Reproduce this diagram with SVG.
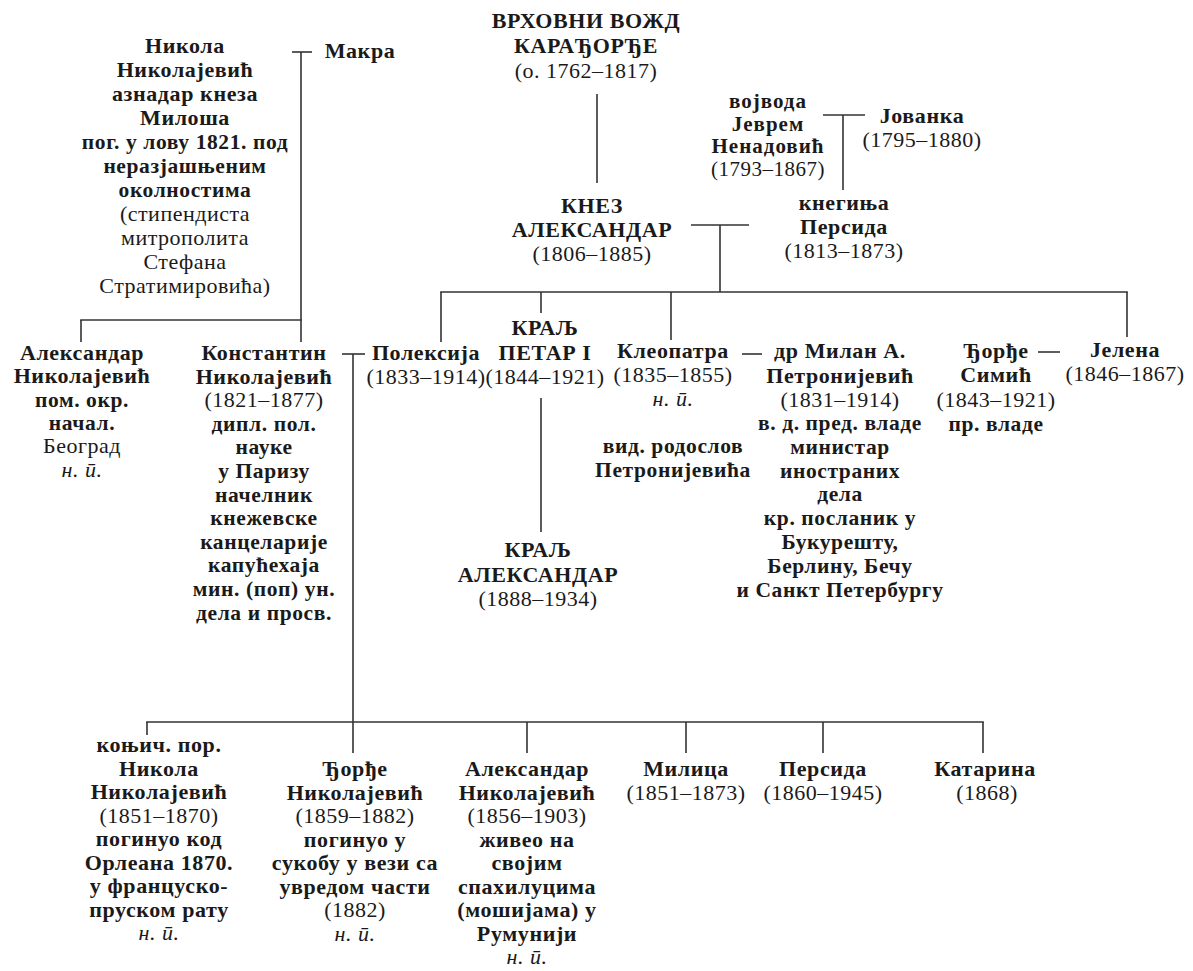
<svg xmlns="http://www.w3.org/2000/svg" width="1193" height="971" viewBox="0 0 1193 971">
<style>
text{font-family:"Liberation Serif","Times New Roman",serif;fill:#1a1a1a;text-anchor:middle;font-size:22px}
.b{font-weight:bold;letter-spacing:0.6px}
.d{font-weight:bold;font-size:21.5px;letter-spacing:0.6px}
.r{font-weight:normal;letter-spacing:0.5px}
.i{font-style:italic;font-weight:normal;letter-spacing:0.5px}
.v{font-size:21px}
.v .b{letter-spacing:1px}
.c line{stroke:#333;stroke-width:1.6;fill:none}
</style>
<rect width="1193" height="971" fill="#fff"/>
<g class="c" id="connectors">
<line x1="292" y1="52" x2="312" y2="52"/>
<line x1="301" y1="52" x2="301" y2="342"/>
<line x1="80.2" y1="320" x2="301.8" y2="320"/>
<line x1="81" y1="320" x2="81" y2="342"/>
<line x1="342" y1="354" x2="365" y2="354"/>
<line x1="353" y1="354" x2="353" y2="753"/>
<line x1="146.2" y1="722" x2="983.8" y2="722"/>
<line x1="147" y1="722" x2="147" y2="735"/>
<line x1="527" y1="722" x2="527" y2="753"/>
<line x1="686" y1="722" x2="686" y2="753"/>
<line x1="823" y1="722" x2="823" y2="753"/>
<line x1="983" y1="722" x2="983" y2="753"/>
<line x1="597" y1="94" x2="597" y2="183"/>
<line x1="691" y1="225" x2="749" y2="225"/>
<line x1="720" y1="225" x2="720" y2="292"/>
<line x1="440.2" y1="292" x2="1127.8" y2="292"/>
<line x1="441" y1="292" x2="441" y2="342"/>
<line x1="541" y1="292" x2="541" y2="313"/>
<line x1="671" y1="292" x2="671" y2="340"/>
<line x1="1127" y1="292" x2="1127" y2="337"/>
<line x1="541" y1="398" x2="541" y2="532"/>
<line x1="742" y1="354" x2="762" y2="354"/>
<line x1="1038" y1="352" x2="1060" y2="352"/>
<line x1="823" y1="115" x2="865" y2="115"/>
<line x1="843" y1="115" x2="843" y2="190"/>
</g>
<g id="nikola">
<text x="185" y="53"><tspan class="b" x="185">Никола</tspan><tspan class="b" x="185" dy="24">Николајевић</tspan><tspan class="b" x="185" dy="24">азнадар кнеза</tspan><tspan class="b" x="185" dy="24">Милоша</tspan><tspan class="d" x="185" dy="24">пог. у лову 1821. под</tspan><tspan class="d" x="185" dy="24">неразјашњеним</tspan><tspan class="d" x="185" dy="24">околностима</tspan><tspan class="r" x="185" dy="24">(стипендиста</tspan><tspan class="r" x="185" dy="24">митрополита</tspan><tspan class="r" x="185" dy="24">Стефана</tspan><tspan class="r" x="185" dy="24">Стратимировића)</tspan></text>
</g>
<g id="makra"><text class="b" x="360" y="58">Макра</text></g>
<g id="aleksandar-n1">
<text x="82" y="360"><tspan class="b" x="82">Александар</tspan><tspan class="b" x="82" dy="23.3">Николајевић</tspan><tspan class="d" x="82" dy="23.3">пом. окр.</tspan><tspan class="d" x="82" dy="23.3">начал.</tspan><tspan class="r" x="82" dy="23.3">Београд</tspan><tspan class="i" x="82" dy="23.3">н. ӣ.</tspan></text>
</g>
<g id="konstantin">
<text x="264" y="360"><tspan class="b" x="264">Константин</tspan><tspan class="b" x="264" dy="23.6">Николајевић</tspan><tspan class="r" x="264" dy="23.6">(1821–1877)</tspan><tspan class="d" x="264" dy="23.6">дипл. пол.</tspan><tspan class="d" x="264" dy="23.6">науке</tspan><tspan class="d" x="264" dy="23.6">у Паризу</tspan><tspan class="d" x="264" dy="23.6">начелник</tspan><tspan class="d" x="264" dy="23.6">кнежевске</tspan><tspan class="d" x="264" dy="23.6">канцеларије</tspan><tspan class="d" x="264" dy="23.6">капућехаја</tspan><tspan class="d" x="264" dy="23.6">мин. (поп) ун.</tspan><tspan class="d" x="264" dy="23.6">дела и просв.</tspan></text>
</g>
<g id="karadjordje">
<text x="586" y="28"><tspan class="b" x="586">ВРХОВНИ ВОЖД</tspan><tspan class="b" x="586" dy="25">КАРАЂОРЂЕ</tspan><tspan class="r" x="586" dy="25">(о. 1762–1817)</tspan></text>
</g>
<g id="knez-aleksandar">
<text x="592" y="213"><tspan class="b" x="592">КНЕЗ</tspan><tspan class="b" x="592" dy="24">АЛЕКСАНДАР</tspan><tspan class="r" x="592" dy="24">(1806–1885)</tspan></text>
</g>
<g id="jevrem">
<text class="v" x="768" y="108"><tspan class="b" x="768">војвода</tspan><tspan class="b" x="768" dy="22.5">Јеврем</tspan><tspan class="b" x="768" dy="22.5">Ненадовић</tspan><tspan class="r" x="768" dy="22.5">(1793–1867)</tspan></text>
</g>
<g id="jovanka">
<text x="922" y="123"><tspan class="b" x="922">Јованка</tspan><tspan class="r" x="922" dy="24">(1795–1880)</tspan></text>
</g>
<g id="persida-kneginja">
<text x="844" y="210"><tspan class="b" x="844">кнегиња</tspan><tspan class="b" x="844" dy="24">Персида</tspan><tspan class="r" x="844" dy="23.5">(1813–1873)</tspan></text>
</g>
<g id="poleksija">
<text x="426" y="360"><tspan class="b" x="426">Полексија</tspan><tspan class="r" x="426" dy="23.5">(1833–1914)</tspan></text>
</g>
<g id="petar">
<text x="545" y="335"><tspan class="b" x="545">КРАЉ</tspan><tspan class="b" x="545" dy="25">ПЕТАР I</tspan><tspan class="r" x="545" dy="23.5">(1844–1921)</tspan></text>
</g>
<g id="kralj-aleksandar">
<text x="538" y="557"><tspan class="b" x="538">КРАЉ</tspan><tspan class="b" x="538" dy="25">АЛЕКСАНДАР</tspan><tspan class="r" x="538" dy="23.5">(1888–1934)</tspan></text>
</g>
<g id="kleopatra">
<text x="673" y="358"><tspan class="b" x="673">Клеопатра</tspan><tspan class="r" x="673" dy="23.5">(1835–1855)</tspan><tspan class="i" x="673" dy="24">н. ӣ.</tspan></text>
<text x="673" y="453"><tspan class="d" x="673">вид. родослов</tspan><tspan class="d" x="673" dy="24">Петронијевића</tspan></text>
</g>
<g id="milan">
<text x="840" y="358"><tspan class="b" x="840">др Милан А.</tspan><tspan class="b" x="840" dy="24.5">Петронијевић</tspan><tspan class="r" x="840" dy="24">(1831–1914)</tspan><tspan class="d" x="840" dy="23.5">в. д. пред. владе</tspan><tspan class="d" x="840" dy="23.8">министар</tspan><tspan class="d" x="840" dy="23.8">иностраних</tspan><tspan class="d" x="840" dy="23.8">дела</tspan><tspan class="d" x="840" dy="23.8">кр. посланик у</tspan><tspan class="d" x="840" dy="23.8">Букурешту,</tspan><tspan class="d" x="840" dy="23.8">Берлину, Бечу</tspan><tspan class="d" x="840" dy="23.8">и Санкт Петербургу</tspan></text>
</g>
<g id="djordje-simic">
<text x="996" y="358"><tspan class="b" x="996">Ђорђе</tspan><tspan class="b" x="996" dy="24">Симић</tspan><tspan class="r" x="996" dy="25">(1843–1921)</tspan><tspan class="d" x="996" dy="23.5">пр. владе</tspan></text>
</g>
<g id="jelena">
<text x="1125" y="357"><tspan class="b" x="1125">Јелена</tspan><tspan class="r" x="1125" dy="23.5">(1846–1867)</tspan></text>
</g>
<g id="nikola-jr">
<text x="159" y="752"><tspan class="b" x="159">коњич. пор.</tspan><tspan class="b" x="159" dy="23.5">Никола</tspan><tspan class="b" x="159" dy="23.5">Николајевић</tspan><tspan class="r" x="159" dy="23.5">(1851–1870)</tspan><tspan class="b" x="159" dy="23.5">погинуо код</tspan><tspan class="b" x="159" dy="23.5">Орлеана 1870.</tspan><tspan class="b" x="159" dy="23.5">у француско-</tspan><tspan class="b" x="159" dy="23.5">пруском рату</tspan><tspan class="i" x="159" dy="23.5">н. ӣ.</tspan></text>
</g>
<g id="djordje-n">
<text x="355" y="776"><tspan class="b" x="355">Ђорђе</tspan><tspan class="b" x="355" dy="23.5">Николајевић</tspan><tspan class="r" x="355" dy="23.5">(1859–1882)</tspan><tspan class="b" x="355" dy="23.5">погинуо у</tspan><tspan class="b" x="355" dy="23.5">сукобу у вези са</tspan><tspan class="b" x="355" dy="23.5">увредом части</tspan><tspan class="r" x="355" dy="23.5">(1882)</tspan><tspan class="i" x="355" dy="23.5">н. ӣ.</tspan></text>
</g>
<g id="aleksandar-n2">
<text x="527" y="776"><tspan class="b" x="527">Александар</tspan><tspan class="b" x="527" dy="23.5">Николајевић</tspan><tspan class="r" x="527" dy="23.5">(1856–1903)</tspan><tspan class="b" x="527" dy="23.5">живео на</tspan><tspan class="b" x="527" dy="23.5">својим</tspan><tspan class="b" x="527" dy="23.5">спахилуцима</tspan><tspan class="b" x="527" dy="23.5">(мошијама) у</tspan><tspan class="b" x="527" dy="23.5">Румунији</tspan><tspan class="i" x="527" dy="23.5">н. ӣ.</tspan></text>
</g>
<g id="milica">
<text x="686" y="776"><tspan class="b" x="686">Милица</tspan><tspan class="r" x="686" dy="23.5">(1851–1873)</tspan></text>
</g>
<g id="persida">
<text x="823" y="776"><tspan class="b" x="823">Персида</tspan><tspan class="r" x="823" dy="23.5">(1860–1945)</tspan></text>
</g>
<g id="katarina">
<text x="985" y="776"><tspan class="b" x="985">Катарина</tspan><tspan class="r" x="987" dy="23.5">(1868)</tspan></text>
</g>
</svg>
